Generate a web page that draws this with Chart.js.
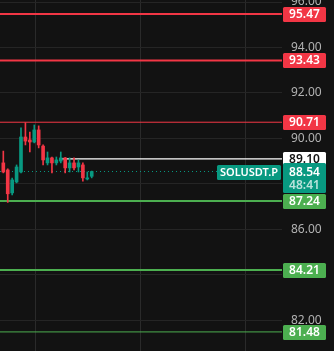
<!DOCTYPE html>
<html>
<head>
<meta charset="utf-8">
<script src="https://cdn.jsdelivr.net/npm/chart.js@4/dist/chart.umd.min.js"></script>
<style>
html,body{margin:0;padding:0;background:#121212;}
#wrap{width:334px;height:351px;}
</style>
</head>
<body>
<div id="wrap"><canvas id="c" width="334" height="351"></canvas></div>
<script>
// ---- data ----
const candleIndex = [0,1,2,3,4,5,6,7,8,9,10,11,12,13,14,15,16,17,18,19,20];
const opens  = [88.92,88.61,87.60,88.08,88.52,90.06,89.93,89.84,90.37,89.66,88.92,89.14,88.92,89.00,89.14,88.70,88.92,88.74,88.83,88.21,88.33];
const highs  = [89.44,88.66,88.25,88.83,90.46,90.69,90.28,90.59,90.55,89.71,89.40,89.18,89.18,89.40,89.16,89.14,89.14,89.05,88.92,88.52,88.56];
const lows   = [88.48,87.18,87.51,88.04,88.48,89.71,89.40,89.80,89.58,88.83,88.83,88.48,88.83,88.92,88.48,88.52,88.61,88.52,88.12,88.17,88.26];
const closes = [88.52,87.56,88.17,88.74,90.06,89.88,89.84,90.37,89.71,89.05,89.14,88.92,89.05,89.14,88.70,88.92,88.70,88.92,88.26,88.26,88.54];

const levelValues = [95.47, 93.43, 90.71, 89.10, 87.24, 84.21, 81.48];
const levelStartIndex = [null, null, null, 13, null, null, null]; // null = from left edge
const lastPrice = 88.54;
const symbolLabel = "SOLUSDT.P";
const countdownLabel = "48:41";
const yTickStep = 2;
const yMin = 80.64, yMax = 96.09;
const xMin = -0.75, xMax = 63.05;
const xGridAt = [7.17, 30.95, 54.9];

// ---- styles ----
const UP = '#089981', DOWN = '#f23645', RED = '#f23645', GREEN = '#4caf50', WHITE = '#ffffff';
const levelColors = [RED, RED, RED, WHITE, GREEN, GREEN, GREEN];
const levelWidths = [2, 2, 1, 1.2, 2, 2, 1];
const levelBoxBg  = [RED, RED, RED, WHITE, GREEN, GREEN, GREEN];
const levelBoxFg  = ['#fff','#fff','#fff','#131313','#fff','#fff','#fff'];
const BG = '#121212', GRID = '#252525', VGRID = '#2a2a2a';
const FONT = '"Noto Sans", "DejaVu Sans", sans-serif';

const candleColors = opens.map((o,i)=> closes[i] >= o ? UP : DOWN);

const bodyData = candleIndex.map(i => ({x:i, y:[Math.min(opens[i],closes[i]), Math.max(opens[i],closes[i])]}));
const wickData = candleIndex.map(i => ({x:i, y:[lows[i], highs[i]]}));

const datasets = [];
datasets.push({type:'bar', data: bodyData, backgroundColor: candleColors, barThickness: 3, minBarLength: 1, grouped:false, order: 1});
datasets.push({type:'bar', data: wickData, backgroundColor: candleColors, barThickness: 1, grouped:false, order: 2});
levelValues.forEach((v,k)=>{
  const xs = levelStartIndex[k] === null ? xMin : levelStartIndex[k];
  datasets.push({type:'line', data:[{x:xs,y:v},{x:xMax,y:v}], borderColor: levelColors[k], borderWidth: levelWidths[k], pointRadius:0, order: 3});
});
datasets.push({type:'line', data:[{x:xMin,y:lastPrice},{x:xMax,y:lastPrice}], borderColor: UP, borderWidth:1, borderDash:[1,3], pointRadius:0, order: 4});

const bgPlugin = {
  id:'bg',
  beforeDraw(chart){
    const ctx = chart.ctx;
    ctx.save(); ctx.fillStyle = BG; ctx.fillRect(0,0,chart.width,chart.height); ctx.restore();
  }
};

function box(ctx, x, y, w, h, bg){
  ctx.fillStyle = bg;
  ctx.beginPath();
  if (ctx.roundRect) ctx.roundRect(x, y, w, h, 1.5); else ctx.rect(x,y,w,h);
  ctx.fill();
}

const labelPlugin = {
  id:'labels',
  afterDraw(chart){
    const ctx = chart.ctx;
    const ys = chart.scales.y;
    const left = chart.chartArea.right + 1;
    const w = 43;
    ctx.save();
    ctx.font = '600 12px ' + FONT;
    ctx.textAlign = 'center';
    ctx.textBaseline = 'middle';
    levelValues.forEach((v,k)=>{
      const y = Math.round(ys.getPixelForValue(v));
      box(ctx, left, y-7, w, 15, levelBoxBg[k]);
      ctx.fillStyle = levelBoxFg[k];
      ctx.fillText(v.toFixed(2), left + w/2, y+1);
    });
    // last price box with countdown
    const yp = Math.round(ys.getPixelForValue(lastPrice));
    box(ctx, left, yp-9, w, 30, UP);
    ctx.fillStyle = '#ffffff';
    ctx.fillText(lastPrice.toFixed(2), left + w/2, yp+1);
    ctx.fillStyle = 'rgba(255,255,255,0.72)';
    ctx.fillText(countdownLabel, left + w/2, yp+14);
    // symbol label
    ctx.font = '600 11px ' + FONT;
    const sw = 64;
    box(ctx, chart.chartArea.right - sw - 1, yp-7, sw, 15, UP);
    ctx.fillStyle = '#ffffff';
    ctx.fillText(symbolLabel, chart.chartArea.right - sw/2 - 1, yp+1);
    ctx.restore();
  }
};

new Chart(document.getElementById('c'), {
  type:'bar',
  data:{datasets},
  options:{
    responsive:false,
    animation:false,
    events:[],
    layout:{padding:0},
    plugins:{legend:{display:false}, tooltip:{enabled:false}},
    scales:{
      x:{
        type:'linear', min:xMin, max:xMax, offset:false,
        grid:{color:VGRID, drawTicks:false, lineWidth:1, offset:false},
        border:{display:false},
        ticks:{display:false},
        afterBuildTicks(s){ s.ticks = xGridAt.map(v=>({value:v})); },
        afterFit(s){ s.height = 0; s.paddingLeft = 0; s.paddingRight = 0; }
      },
      y:{
        type:'linear', position:'right', min:yMin, max:yMax,
        grid:{color:GRID, drawTicks:false, offset:false},
        border:{display:false},
        ticks:{
          stepSize:yTickStep, includeBounds:false, padding:9,
          color:'#b2b2b2', font:{size:12, family:FONT},
          callback:(v)=> (Math.abs(v-88)<1e-6 || Math.abs(v-84)<1e-6) ? '' : Number(v).toFixed(2)
        },
        afterFit(s){ s.width = 52; s.paddingTop = 0; s.paddingBottom = 0; }
      }
    }
  },
  plugins:[bgPlugin, labelPlugin]
});
</script>
</body>
</html>
